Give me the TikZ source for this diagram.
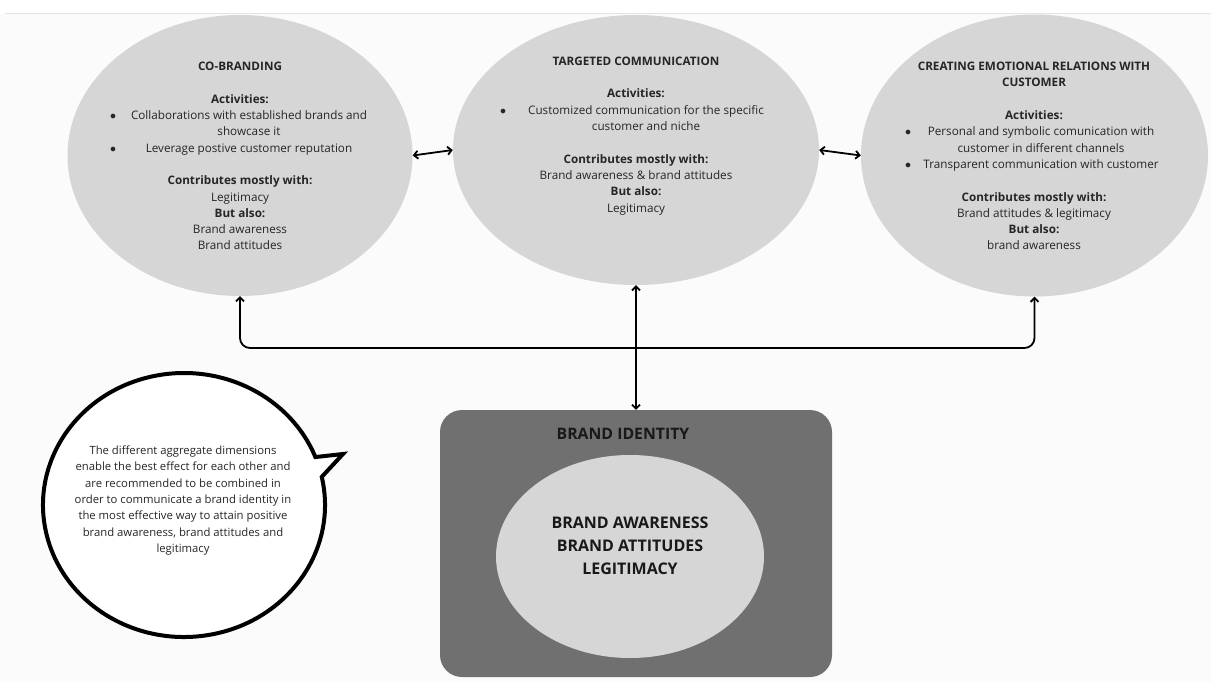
\documentclass[tikz,border=0pt]{standalone}
\usepackage{fontspec}
\setmainfont{Open Sans}
\usetikzlibrary{arrows.meta,shapes.geometric}
\definecolor{ellgray}{HTML}{D6D6D6}
\definecolor{idgray}{HTML}{707070}
\definecolor{inkgray}{HTML}{262626}
\definecolor{rulegray}{HTML}{E2E2E8}
\newcommand{\bitem}[3]{\makebox[#1][l]{$\bullet$}\makebox[#2]{#3}}
\newcommand{\bcont}[3]{\hspace*{#1}\makebox[#2]{#3}}

\begin{document}
\begin{tikzpicture}[x=1pt,y=-1pt]
    \tikzstyle{every node}=[font=\fontsize{11.7}{16.3}\selectfont, text=inkgray, inner sep=0pt]
    \tikzstyle{dimension}=[ellipse, fill=ellgray]
    \tikzstyle{dimtext}=[anchor=north, align=center]
    \tikzstyle{link}=[<->, >={Straight Barb[length=4pt,width=8pt]}, line width=1.8pt]
    \useasboundingbox (0,0) rectangle (1211,682);
    \fill[black!1.5] (0,14) rectangle (1211,682);
    \draw[line width=1.5pt, rulegray] (5,13.5) -- (1211,13.5);
    % three dimensions
    \node[dimension, minimum width=345pt, minimum height=281pt] (cob) at (240,155.5) {};
    \node[dimension, minimum width=366pt, minimum height=270pt] (tcom) at (636,150) {};
    \node[dimension, minimum width=347pt, minimum height=282pt] (emo) at (1034.5,155.5) {};
    \node[dimtext] (cobtxt) at (240,62) {\textbf{CO-BRANDING}\\[16.3pt]
        \textbf{Activities:}\\
        \bitem{18pt}{242pt}{Collaborations with established brands and}\\
        \bcont{18pt}{242pt}{showcase it}\\
        \bitem{18pt}{242pt}{Leverage postive customer reputation}\\[16.3pt]
        \textbf{Contributes mostly with:}\\
        Legitimacy\\
        \textbf{But also:}\\
        Brand awareness\\
        Brand attitudes};
    \node[dimtext] (tcomtxt) at (636,57) {\textbf{TARGETED COMMUNICATION}\\[16pt]
        \textbf{Activities:}\\
        \bitem{20pt}{252pt}{Customized communication for the specific}\\
        \bcont{20pt}{252pt}{customer and niche}\\[16.3pt]
        \textbf{Contributes mostly with:}\\
        Brand awareness \& brand attitudes\\
        \textbf{But also:}\\
        Legitimacy};
    \node[dimtext] (emotxt) at (1034,62) {\textbf{CREATING EMOTIONAL RELATIONS WITH}\\
        \textbf{CUSTOMER}\\[16.3pt]
        \textbf{Activities:}\\
        \bitem{14pt}{244pt}{Personal and symbolic comunication with}\\
        \bcont{14pt}{244pt}{customer in different channels}\\
        \bitem{14pt}{244pt}{Transparent communication with customer}\\[16.3pt]
        \textbf{Contributes mostly with:}\\
        Brand attitudes \& legitimacy\\
        \textbf{But also:}\\
        brand awareness};
    % brand identity box
    \node[rectangle, rounded corners=22pt, fill=idgray, minimum width=392pt, minimum height=267pt] (brid) at (636,543.5) {};
    \node[font=\fontsize{15.8}{18}\selectfont\bfseries, text=black!90] (bridtitle) at (623,434) {BRAND IDENTITY};
    \node[dimension, minimum width=268pt, minimum height=203pt] (core) at (630,556.5) {};
    \node[align=center, font=\fontsize{16}{23}\selectfont\bfseries, text=black!90] (coretxt) at (630,546) {BRAND AWARENESS\\BRAND ATTITUDES\\LEGITIMACY};
    % arrows
    \coordinate (loopturn) at (1034.5,348);
    \draw[link] (cob.east) -- (tcom.west);
    \draw[link] (tcom.east) -- (emo.west);
    \draw[link, rounded corners=10pt] (cob.south) |- (loopturn) -- (emo.south);
    \draw[link] (tcom.south) -- (brid.north);
    % speech bubble
    \coordinate (bubc) at (184,505);
    \coordinate (tailtip) at (343,454);
    \draw[line width=4pt, fill=white, line join=miter] (tailtip) -- ([shift={(-12.3:141 and 132)}]bubc)
        arc[start angle=-12.3, end angle=338.7, x radius=141, y radius=132] -- cycle;
    \node[align=center, font=\fontsize{11.3}{16.3}\selectfont] (bubtxt) at (183,500.5) {The different aggregate dimensions\\
        enable the best effect for each other and\\
        are recommended to be combined in\\
        order to communicate a brand identity in\\
        the most effective way to attain positive\\
        brand awareness, brand attitudes and\\
        legitimacy};
\end{tikzpicture}
\end{document}
